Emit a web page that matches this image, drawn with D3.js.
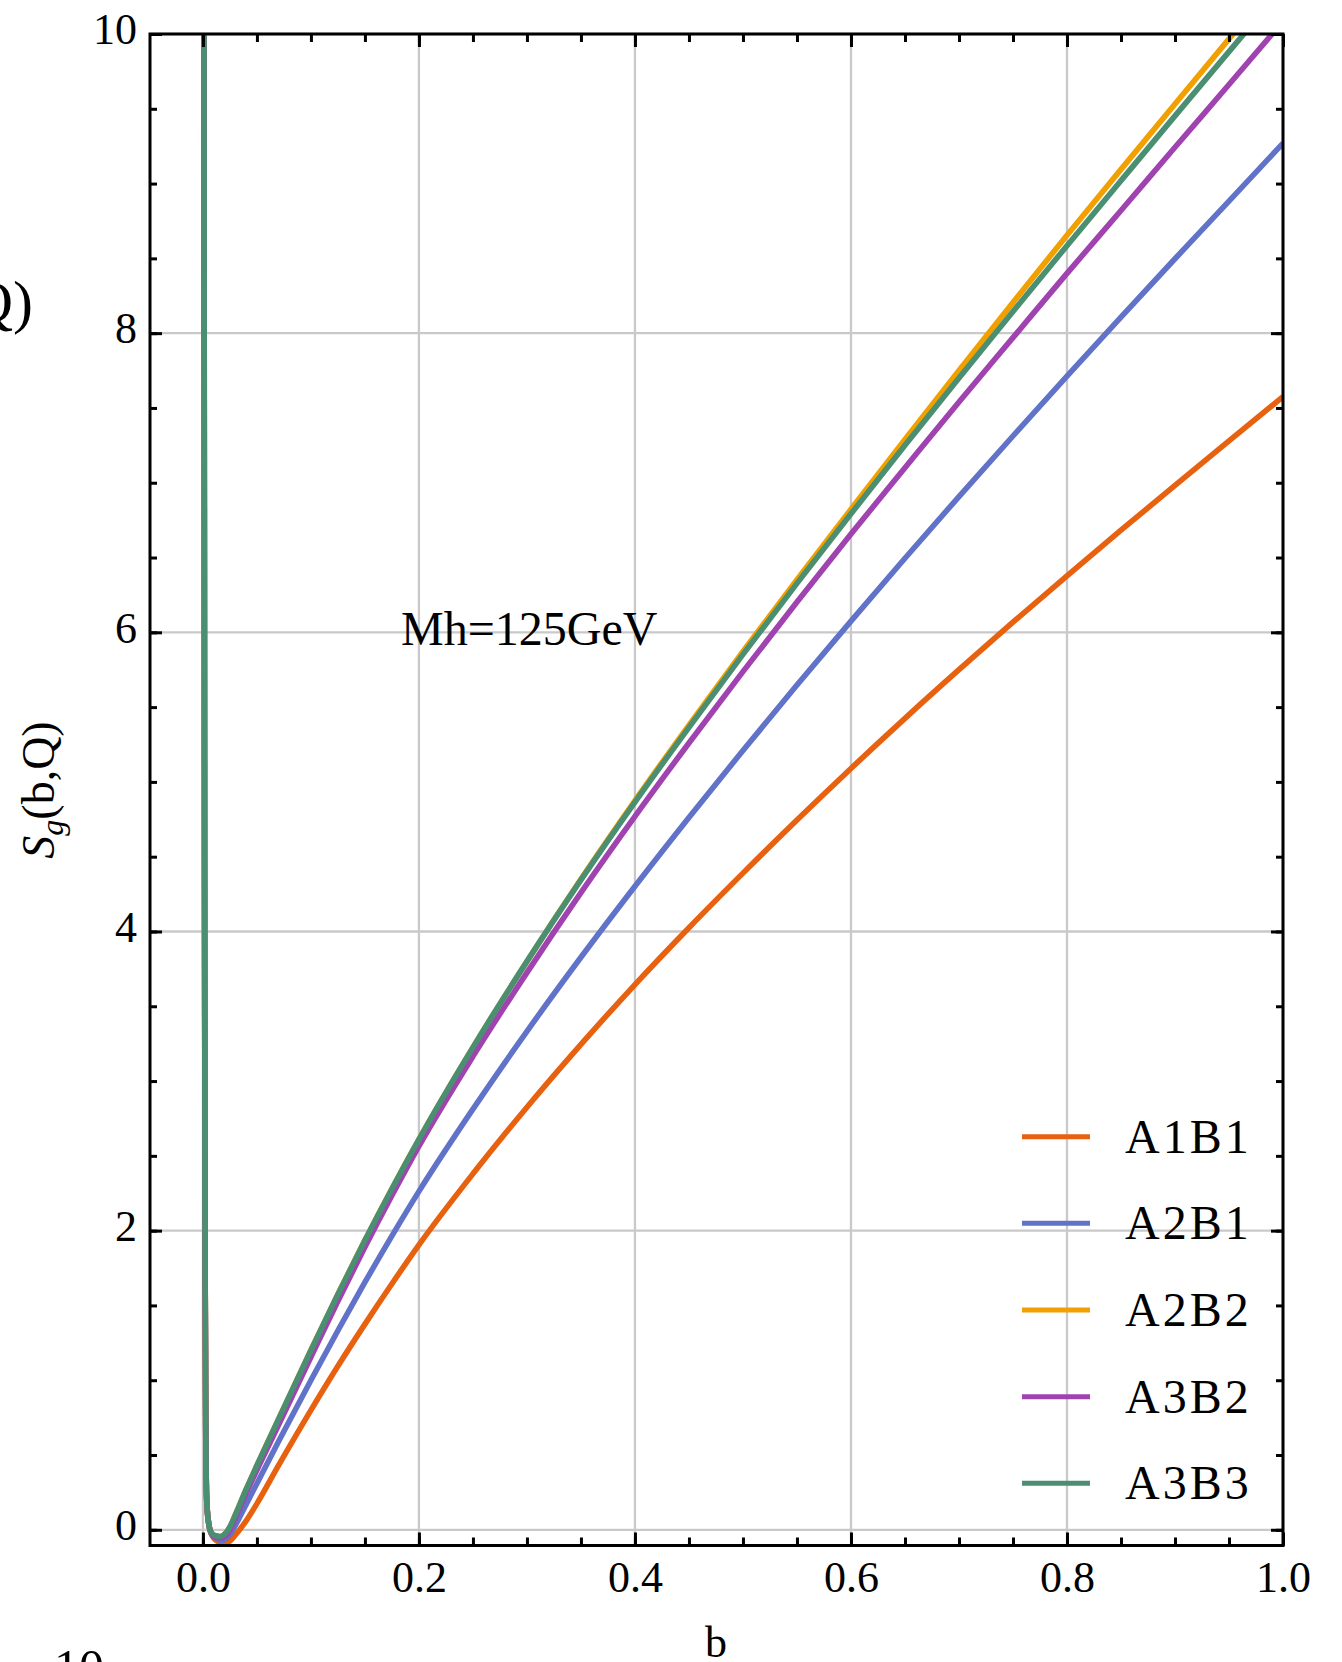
<!DOCTYPE html>
<html><head><meta charset="utf-8">
<script src="https://cdn.jsdelivr.net/npm/d3@7"></script>
<style>html,body{margin:0;padding:0;background:#fff;} svg{display:block;}</style>
</head><body>
<svg id="chart" width="1342" height="1662"></svg>
<script>
const categories = ["A1B1", "A2B1", "A2B2", "A3B2", "A3B3"];
const colors = ["#e8610f", "#6073c8", "#f2a000", "#a043b0", "#4a8f72"];
const bValues = [0.0008, 0.001, 0.0015, 0.002, 0.0027, 0.0035, 0.005, 0.0065, 0.009, 0.012, 0.016, 0.02, 0.025, 0.03, 0.04, 0.05, 0.07, 0.1, 0.125, 0.15, 0.175, 0.2, 0.25, 0.3, 0.35, 0.4, 0.45, 0.5, 0.55, 0.6, 0.65, 0.7, 0.75, 0.8, 0.85, 0.9, 0.95, 1.0];
const sA1B1 = [13, 10, 4.5, 1.8, 0.6, 0.2, 0.06, 0.0, -0.045, -0.07, -0.085, -0.09, -0.075, -0.035, 0.06, 0.175, 0.43, 0.80, 1.095, 1.375, 1.645, 1.905, 2.38, 2.825, 3.245, 3.645, 4.025, 4.39, 4.745, 5.09, 5.425, 5.75, 6.0675, 6.3775, 6.6825, 6.9825, 7.28, 7.575];
const sA2B1 = [13, 10, 4.5, 1.8, 0.6, 0.2, 0.06, 0.0, -0.04, -0.055, -0.07, -0.065, -0.03, 0.03, 0.17, 0.31, 0.59, 1.0, 1.3325, 1.655, 1.965, 2.2625, 2.8125, 3.3325, 3.8275, 4.3025, 4.7625, 5.21, 5.6475, 6.075, 6.495, 6.9075, 7.3125, 7.7125, 8.1075, 8.4975, 8.8825, 9.27];
const sA2B2 = [13, 10, 4.5, 1.8, 0.6, 0.2, 0.06, 0.0, -0.03, -0.04, -0.045, -0.03, 0.02, 0.10, 0.27, 0.43, 0.74, 1.20, 1.575, 1.935, 2.28, 2.61, 3.225, 3.80, 4.35, 4.875, 5.38, 5.8725, 6.3525, 6.8225, 7.29, 7.75, 8.205, 8.655, 9.095, 9.5325, 9.9675, 10.40];
const sA3B2 = [13, 10, 4.5, 1.8, 0.6, 0.2, 0.06, 0.0, -0.035, -0.05, -0.055, -0.045, 0.0, 0.08, 0.245, 0.40, 0.70, 1.155, 1.53, 1.89, 2.235, 2.565, 3.165, 3.725, 4.26, 4.77, 5.26, 5.7375, 6.2025, 6.6575, 7.10, 7.54, 7.97, 8.40, 8.82, 9.2425, 9.6625, 10.085];
const sA3B3 = [13, 10, 4.5, 1.8, 0.6, 0.2, 0.06, 0.0, -0.03, -0.04, -0.045, -0.03, 0.02, 0.10, 0.27, 0.43, 0.74, 1.20, 1.575, 1.935, 2.28, 2.61, 3.225, 3.80, 4.345, 4.865, 5.365, 5.8525, 6.3275, 6.7925, 7.25, 7.70, 8.145, 8.585, 9.02, 9.4525, 9.8825, 10.31];
const xTickLabels = [0, 0.2, 0.4, 0.6, 0.8, 1.0];
const yTickLabels = [0, 2, 4, 6, 8, 10];
const xMinorTicks = [0, 0.05, 0.1, 0.15, 0.2, 0.25, 0.3, 0.35, 0.4, 0.45, 0.5, 0.55, 0.6, 0.65, 0.7, 0.75, 0.8, 0.85, 0.9, 0.95, 1.0];
const yMinorTicks = [0, 0.5, 1, 1.5, 2, 2.5, 3, 3.5, 4, 4.5, 5, 5.5, 6, 6.5, 7, 7.5, 8, 8.5, 9, 9.5, 10];

const seriesValues = [sA1B1, sA2B1, sA2B2, sA3B2, sA3B3];

const L = 150, R = 1283, T = 34, B = 1545.5;
const FONT = "'Liberation Serif', 'Times New Roman', serif";
const svg = d3.select("#chart");
const x = d3.scaleLinear().domain([-0.049, 1.0]).range([L, R]);
const y = d3.scaleLinear().domain([-0.105, 10]).range([B, T]);

// gridlines
const grid = svg.append("g").attr("stroke", "#c9c9c9").attr("stroke-width", 2.3);
grid.selectAll("line.gx").data(xTickLabels).enter().append("line")
  .attr("x1", d => x(d)).attr("x2", d => x(d)).attr("y1", T).attr("y2", B);
grid.selectAll("line.gy").data(yTickLabels).enter().append("line")
  .attr("x1", L).attr("x2", R).attr("y1", d => y(d)).attr("y2", d => y(d));

// curves
svg.append("clipPath").attr("id", "clip").append("rect")
  .attr("x", L).attr("y", T).attr("width", R - L).attr("height", B - T);
const line = d3.line().x(d => x(d[0])).y(d => y(d[1])).curve(d3.curveMonotoneX);
const cg = svg.append("g").attr("clip-path", "url(#clip)");
seriesValues.forEach((vals, i) => {
  cg.append("path").datum(bValues.map((b, j) => [b, vals[j]]))
    .attr("d", line).attr("fill", "none").attr("stroke", colors[i])
    .attr("stroke-width", 5.6).attr("stroke-linejoin", "round");
});

// axes
function styleAxis(g) {
  g.select(".domain").remove();
  g.selectAll(".tick line").attr("stroke", "#000").attr("stroke-width", 3);
  g.selectAll(".tick text").attr("font-family", FONT).attr("font-size", 44).attr("fill", "#000");
}
svg.append("g").attr("transform", `translate(0,${B})`)
  .call(d3.axisBottom(x).tickValues(xMinorTicks).tickSize(-8).tickFormat("")).call(styleAxis);
svg.append("g").attr("transform", `translate(0,${B})`)
  .call(d3.axisBottom(x).tickValues(xTickLabels).tickSize(-13).tickPadding(15).tickFormat(d3.format(".1f"))).call(styleAxis);
svg.append("g").attr("transform", `translate(0,${T})`)
  .call(d3.axisTop(x).tickValues(xMinorTicks).tickSize(-8).tickFormat("")).call(styleAxis);
svg.append("g").attr("transform", `translate(0,${T})`)
  .call(d3.axisTop(x).tickValues(xTickLabels).tickSize(-13).tickFormat("")).call(styleAxis);
svg.append("g").attr("transform", `translate(${L},0)`)
  .call(d3.axisLeft(y).tickValues(yMinorTicks).tickSize(-7).tickFormat("")).call(styleAxis);
const yl = svg.append("g").attr("transform", `translate(${L},0)`)
  .call(d3.axisLeft(y).tickValues(yTickLabels).tickSize(-12).tickPadding(13).tickFormat(d3.format("d"))).call(styleAxis);
yl.selectAll(".tick text").attr("dy", "0.22em");
svg.append("g").attr("transform", `translate(${R},0)`)
  .call(d3.axisRight(y).tickValues(yMinorTicks).tickSize(-7).tickFormat("")).call(styleAxis);
svg.append("g").attr("transform", `translate(${R},0)`)
  .call(d3.axisRight(y).tickValues(yTickLabels).tickSize(-12).tickFormat("")).call(styleAxis);

// frame
svg.append("rect").attr("x", L).attr("y", T).attr("width", R - L).attr("height", B - T)
  .attr("fill", "none").attr("stroke", "#000").attr("stroke-width", 3);

// labels
svg.append("text").attr("x", 716).attr("y", 1657).attr("text-anchor", "middle")
  .attr("font-family", FONT).attr("font-size", 44).text("b");
const ylab = svg.append("text").attr("transform", "translate(54,790) rotate(-90)")
  .attr("text-anchor", "middle").attr("font-family", FONT).attr("font-size", 46);
ylab.append("tspan").attr("font-style", "italic").text("S");
ylab.append("tspan").attr("font-style", "italic").attr("font-size", 32).attr("dy", 9).text("g");
ylab.append("tspan").attr("dy", -9).text("(b,Q)");
svg.append("text").attr("x", 401).attr("y", 645).attr("font-family", FONT).attr("font-size", 48).text("Mh=125GeV");

// stray fragments of neighbouring figures
svg.append("text").attr("x", 33).attr("y", 322).attr("text-anchor", "end")
  .attr("font-family", FONT).attr("font-size", 60).text("(b,Q)");
svg.append("text").attr("x", 54).attr("y", 1684)
  .attr("font-family", FONT).attr("font-size", 50).text("10");

// legend
const leg = svg.append("g");
categories.forEach((c, i) => {
  const cy = 1136.7 + i * 86.65;
  leg.append("line").attr("x1", 1022).attr("x2", 1090).attr("y1", cy).attr("y2", cy)
    .attr("stroke", colors[i]).attr("stroke-width", 5);
  leg.append("text").attr("x", 1125).attr("y", cy + 16).attr("font-family", FONT)
    .attr("font-size", 48).attr("letter-spacing", 3).text(c);
});
</script>
</body></html>
